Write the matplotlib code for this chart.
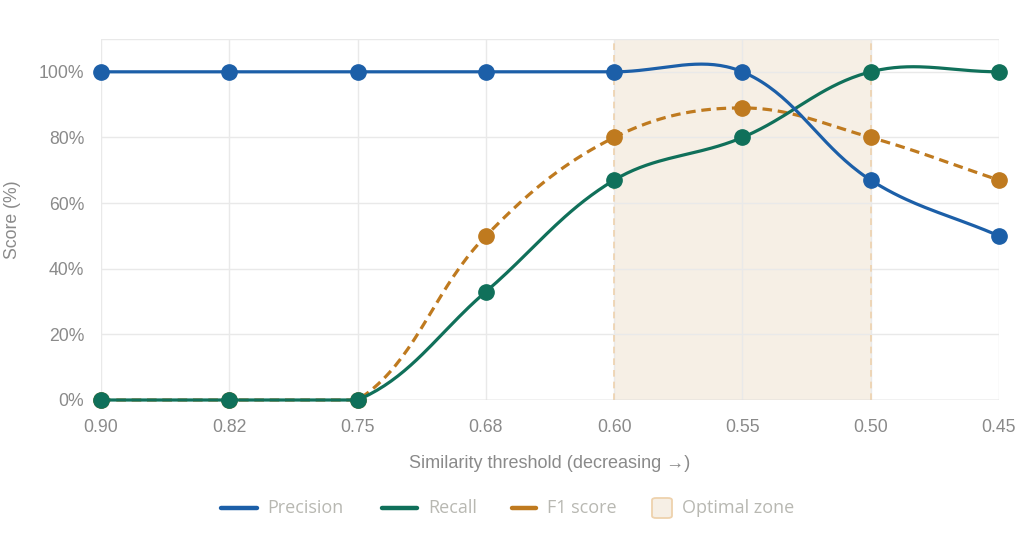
import numpy as np
import matplotlib
matplotlib.use("Agg")
import matplotlib.pyplot as plt
from matplotlib.lines import Line2D
from matplotlib.patches import FancyBboxPatch

thresholds = ["0.90", "0.82", "0.75", "0.68", "0.60", "0.55", "0.50", "0.45"]
precision = [100, 100, 100, 100, 100, 100, 67, 50]
recall = [0, 0, 0, 33, 67, 80, 100, 100]
f1 = [0, 0, 0, 50, 80, 89, 80, 67]
zone_start, zone_end = "0.60", "0.50"
legend_labels = ["Precision", "Recall", "F1 score", "Optimal zone"]

c_prec = "#1c5fa8"
c_rec = "#10705a"
c_f1 = "#bf7a1f"
c_zone = "#f6efe5"
c_zone_edge = "#eed2ad"
c_text = "#8a8a8a"
c_legend = "#b8b8b2"
c_grid = "#e9e9e9"

W, H = 1024, 544
plt.rcParams["font.family"] = ["Liberation Sans", "DejaVu Sans"]

fig = plt.figure(figsize=(W / 100, H / 100), dpi=100)
ax = fig.add_axes([101 / W, 1 - 400 / H, 898 / W, 361 / H])
x = np.arange(len(thresholds))
ax.set_xlim(0, len(thresholds) - 1)
ax.set_ylim(0, 110)


def spline(xs, ys, tension=0.37, n=40):
    # chart.js style bezier through the points, worked out in pixel space
    pts = ax.transData.transform(np.column_stack([xs, ys]))
    cps = []
    for i in range(len(pts)):
        prev = pts[i - 1] if i > 0 else pts[i]
        nxt = pts[i + 1] if i < len(pts) - 1 else pts[i]
        cur = pts[i]
        d01 = np.hypot(*(cur - prev))
        d12 = np.hypot(*(nxt - cur))
        tot = d01 + d12
        s01 = d01 / tot if tot else 0
        s12 = d12 / tot if tot else 0
        cps.append((cur - tension * s01 * (nxt - prev), cur + tension * s12 * (nxt - prev)))
    t = np.linspace(0, 1, n)[:, None]
    out = []
    for i in range(len(pts) - 1):
        p0, p1, p2, p3 = pts[i], cps[i][1], cps[i + 1][0], pts[i + 1]
        seg = (1 - t) ** 3 * p0 + 3 * (1 - t) ** 2 * t * p1 + 3 * (1 - t) * t ** 2 * p2 + t ** 3 * p3
        out.append(seg if i == 0 else seg[1:])
    data = ax.transData.inverted().transform(np.vstack(out))
    return data[:, 0], np.clip(data[:, 1], 0, 110)


zs, ze = thresholds.index(zone_start), thresholds.index(zone_end)
ax.axvspan(zs, ze, color=c_zone, zorder=0, lw=0)
for xv in (zs, ze):
    ax.axvline(xv, color=c_zone_edge, lw=1.2, ls=(0, (4, 3)), zorder=1)

series = [(f1, c_f1, (0, (3, 1.8)), 3), (recall, c_rec, "-", 5), (precision, c_prec, "-", 7)]
for ys, col, ls, z in series:
    sx, sy = spline(x, ys)
    ax.plot(sx, sy, color=col, lw=2.3, ls=ls, zorder=z, clip_on=False)
    ax.plot(x, ys, "o", color=col, ms=11, zorder=z + 1, clip_on=False)

ax.set_yticks(range(0, 101, 20))
ax.set_yticklabels([f"{v}%" for v in range(0, 101, 20)])
ax.set_yticks([110], minor=True)
ax.set_xticks(x)
ax.set_xticklabels(thresholds)
ax.grid(True, which="both", color=c_grid, lw=1)
ax.set_axisbelow(True)
for s in ax.spines.values():
    s.set_visible(False)
ax.axhline(0, color="#d0d0d0", lw=1, zorder=2)
ax.tick_params(axis="both", which="both", length=0, colors=c_text, labelsize=12.7)
ax.tick_params(axis="x", pad=14)
ax.tick_params(axis="y", pad=12)
ax.set_xlabel("Similarity threshold (decreasing →)", color=c_text, fontsize=13, labelpad=13)
ax.set_ylabel("Score (%)", color=c_text, fontsize=12.7, labelpad=13)

# legend drawn by hand at the bottom, in pixel positions
ly = 1 - 508 / H
legend_items = [
    ("line", c_prec, 221, 257, 267),
    ("line", c_rec, 382, 417, 428),
    ("line", c_f1, 512, 536, 547),
    ("box", None, 652, 672, 682),
]
for (kind, col, x0, x1, tx), label in zip(legend_items, legend_labels):
    if kind == "line":
        fig.add_artist(Line2D([x0 / W, x1 / W], [ly, ly], transform=fig.transFigure,
                              color=col, lw=3.2, solid_capstyle="round"))
    else:
        fig.add_artist(FancyBboxPatch((x0 / W, 1 - 518 / H), (x1 - x0) / W, 20 / H,
                                      boxstyle="round,pad=0,rounding_size=0.004",
                                      transform=fig.transFigure, facecolor=c_zone,
                                      edgecolor=c_zone_edge, lw=1.3))
    fig.text(tx / W, ly, label, color=c_legend, fontsize=13, va="center", ha="left",
             family=["Open Sans", "DejaVu Sans"])

fig.savefig("out.png", dpi=100)
